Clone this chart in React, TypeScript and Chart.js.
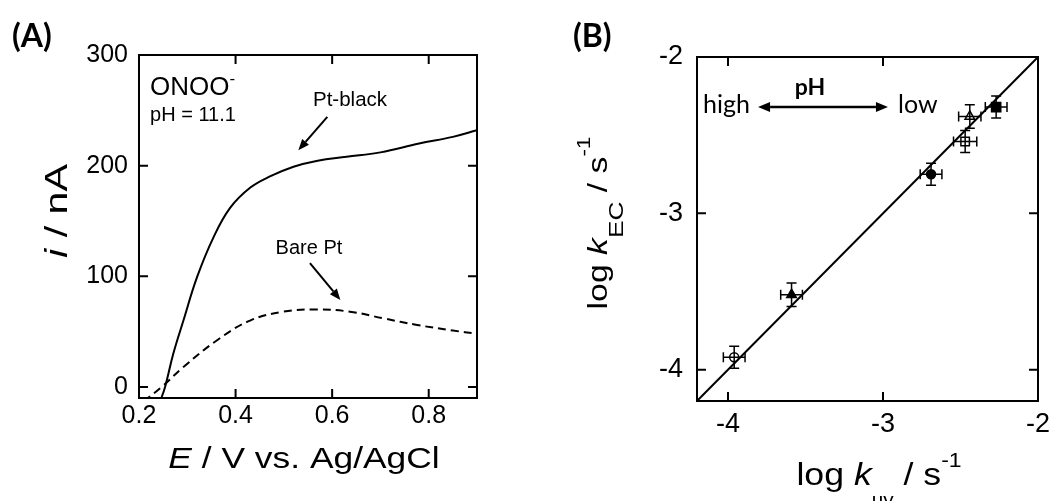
import React, { useEffect, useRef } from "react";
import { Chart, registerables } from "chart.js";
Chart.register(...registerables);

// ---------- Panel A data ----------
const potentialBlack = [0.243, 0.254, 0.271, 0.292, 0.32, 0.354, 0.389, 0.43, 0.47, 0.52, 0.57, 0.63, 0.7, 0.78, 0.85, 0.9];
const currentBlack = [-14, 0, 30, 60, 99, 135, 162, 180, 190, 199, 204.5, 208, 212, 220, 226, 232];
const potentialBare = [0.21, 0.247, 0.292, 0.361, 0.43, 0.499, 0.568, 0.637, 0.706, 0.776, 0.85, 0.9];
const currentBare = [-13, 0, 18, 42, 60, 68, 70, 68, 62, 56, 51, 48];
const xTicksA = [0.2, 0.4, 0.6, 0.8];
const yTicksA = [0, 100, 200, 300];

// ---------- Panel B data ----------
const logKuv = [-2.27, -2.44, -2.47, -2.69, -3.59, -3.96];
const logKec = [-2.32, -2.38, -2.54, -2.75, -3.52, -3.92];
const errUv = [0.07, 0.072, 0.075, 0.07, 0.07, 0.07];
const errEc = [0.07, 0.075, 0.07, 0.07, 0.075, 0.07];
const markerStyle = ["rect", "triangle", "rect", "circle", "triangle", "circle"];
const markerFilled = [true, false, false, true, true, false];
const markerRadius = [6.5, 5.5, 6, 4.5, 5.5, 4.5];
const fitLine = [-4.2, -2];
const ticksB = [-4, -3, -2];

const SANS = "'Liberation Sans', Arial, sans-serif";
const CAL = "Lato, 'Open Sans', sans-serif";

type Run = { t: string; it?: boolean; b?: boolean; size?: number; dy?: number };

function drawRich(
  ctx: CanvasRenderingContext2D,
  runs: Run[],
  x: number,
  y: number,
  size: number,
  family: string,
  align: "left" | "center",
  rot = false,
  sx = 1
) {
  ctx.save();
  ctx.translate(x, y);
  if (rot) ctx.rotate(-Math.PI / 2);
  ctx.scale(sx, 1);
  const parts = runs.map((r) => {
    const s = r.size ?? size;
    const f = `${r.it ? "italic " : ""}${r.b ? "bold " : ""}${s}px ${family}`;
    ctx.font = f;
    return { r, f, w: ctx.measureText(r.t).width };
  });
  const total = parts.reduce((a, p) => a + p.w, 0);
  let cx = align === "center" ? -total / 2 : 0;
  ctx.fillStyle = "#000";
  ctx.textAlign = "left";
  ctx.textBaseline = "alphabetic";
  for (const p of parts) {
    ctx.font = p.f;
    ctx.fillText(p.r.t, cx, (p.r.dy ?? 0) * size);
    cx += p.w;
  }
  ctx.restore();
}

function arrow(ctx: CanvasRenderingContext2D, x1: number, y1: number, x2: number, y2: number, head = 11, half = 4.5, lw = 2) {
  const ang = Math.atan2(y2 - y1, x2 - x1);
  const bx = x2 - head * Math.cos(ang);
  const by = y2 - head * Math.sin(ang);
  ctx.save();
  ctx.strokeStyle = "#000";
  ctx.fillStyle = "#000";
  ctx.lineWidth = lw;
  ctx.beginPath();
  ctx.moveTo(x1, y1);
  ctx.lineTo(bx, by);
  ctx.stroke();
  ctx.beginPath();
  ctx.moveTo(x2, y2);
  ctx.lineTo(bx + half * Math.sin(ang), by - half * Math.cos(ang));
  ctx.lineTo(bx - half * Math.sin(ang), by + half * Math.cos(ang));
  ctx.closePath();
  ctx.fill();
  ctx.restore();
}

function frameTicks(xTicks: number[], yTicks: number[]) {
  return {
    id: "frameTicks",
    afterDatasetsDraw(chart: any) {
      const { ctx, chartArea: a, scales } = chart;
      ctx.save();
      ctx.strokeStyle = "#000";
      ctx.lineWidth = 2;
      ctx.strokeRect(a.left, a.top, a.right - a.left, a.bottom - a.top);
      const L = 9;
      ctx.beginPath();
      for (const v of xTicks) {
        const p = scales.x.getPixelForValue(v);
        ctx.moveTo(p, a.bottom);
        ctx.lineTo(p, a.bottom - L);
        ctx.moveTo(p, a.top);
        ctx.lineTo(p, a.top + L);
      }
      for (const v of yTicks) {
        const p = scales.y.getPixelForValue(v);
        ctx.moveTo(a.left, p);
        ctx.lineTo(a.left + L, p);
        ctx.moveTo(a.right, p);
        ctx.lineTo(a.right - L, p);
      }
      ctx.stroke();
      ctx.restore();
    },
  };
}

function axisCommon(min: number, max: number, ticks: number[], fontSize: number, pad: number, isX: boolean, fmt: (v: number) => string, fitSize: number) {
  return {
    type: "linear" as const,
    min,
    max,
    afterBuildTicks: (s: any) => {
      s.ticks = ticks.map((v) => ({ value: v }));
    },
    afterFit: (s: any) => {
      if (isX) {
        s.height = fitSize;
        s.paddingLeft = 0;
        s.paddingRight = 0;
      } else {
        s.width = fitSize;
        s.paddingTop = 0;
        s.paddingBottom = 0;
      }
    },
    ticks: {
      autoSkip: false,
      maxRotation: 0,
      minRotation: 0,
      padding: pad,
      color: "#000",
      font: { family: SANS, size: fontSize },
      callback: (v: any) => fmt(Number(v)),
    },
    grid: { display: false, drawTicks: false },
    border: { display: false },
  };
}

function PanelA() {
  const ref = useRef<HTMLCanvasElement>(null);
  useEffect(() => {
    const annot = {
      id: "annotA",
      afterDraw(chart: any) {
        const { ctx, scales } = chart;
        const X = (v: number) => scales.x.getPixelForValue(v);
        const Y = (v: number) => scales.y.getPixelForValue(v);
        drawRich(ctx, [{ t: "(A)", b: true }], 12, 47, 32, CAL, "left");
        drawRich(ctx, [{ t: "ONOO" }, { t: "-", size: 17, dy: -0.42 }], X(0.223), Y(264), 26, SANS, "left");
        drawRich(ctx, [{ t: "pH = 11.1" }], X(0.223), Y(240), 20, SANS, "left");
        drawRich(ctx, [{ t: "Pt-black" }], X(0.637), Y(254), 20.5, SANS, "center");
        arrow(ctx, X(0.59), Y(244), X(0.53), Y(214));
        drawRich(ctx, [{ t: "Bare Pt" }], X(0.552), Y(120), 20, SANS, "center");
        arrow(ctx, X(0.554), Y(112), X(0.617), Y(78.6));
        drawRich(ctx, [{ t: "E", it: true }, { t: " / V vs. Ag/AgCl" }], 304, 468, 29, SANS, "center", false, 1.22);
        drawRich(ctx, [{ t: "i", it: true }, { t: " / nA" }], 67, 211, 31, SANS, "center", true, 1.33);
      },
    };
    const chart = new Chart(ref.current!, {
      type: "scatter",
      data: {
        datasets: [
          {
            data: potentialBlack.map((x, i) => ({ x, y: currentBlack[i] })),
            showLine: true,
            borderColor: "#000",
            borderWidth: 2,
            pointRadius: 0,
            tension: 0.4,
            clip: 0,
          } as any,
          {
            data: potentialBare.map((x, i) => ({ x, y: currentBare[i] })),
            showLine: true,
            borderColor: "#000",
            borderWidth: 2,
            borderDash: [8, 5],
            pointRadius: 0,
            tension: 0.4,
            clip: 0,
          } as any,
        ],
      },
      options: {
        responsive: false,
        animation: false,
        devicePixelRatio: 1,
        events: [],
        layout: { padding: { left: 0, right: 53, top: 55, bottom: 63 } },
        plugins: { legend: { display: false }, tooltip: { enabled: false } },
        scales: {
          x: axisCommon(0.2, 0.9, xTicksA, 25, 3, true, (v) => v.toFixed(1), 40),
          y: axisCommon(-10, 300, yTicksA, 25, 11, false, (v) => String(v), 139),
        },
      } as any,
      plugins: [frameTicks(xTicksA, yTicksA), annot],
    });
    return () => chart.destroy();
  }, []);
  return <canvas ref={ref} width={530} height={501} style={{ position: "absolute", left: 0, top: 0, width: 530, height: 501 }} />;
}

function PanelB() {
  const ref = useRef<HTMLCanvasElement>(null);
  useEffect(() => {
    const errorBars = {
      id: "errorBars",
      afterDatasetsDraw(chart: any) {
        const { ctx, scales } = chart;
        const X = (v: number) => scales.x.getPixelForValue(v);
        const Y = (v: number) => scales.y.getPixelForValue(v);
        ctx.save();
        ctx.strokeStyle = "#000";
        ctx.lineWidth = 1.5;
        const cap = 5;
        logKuv.forEach((xv, i) => {
          const yv = logKec[i];
          const x0 = X(xv - errUv[i]);
          const x1 = X(xv + errUv[i]);
          const y0 = Y(yv - errEc[i]);
          const y1 = Y(yv + errEc[i]);
          const px = X(xv);
          const py = Y(yv);
          ctx.beginPath();
          ctx.moveTo(x0, py);
          ctx.lineTo(x1, py);
          ctx.moveTo(x0, py - cap);
          ctx.lineTo(x0, py + cap);
          ctx.moveTo(x1, py - cap);
          ctx.lineTo(x1, py + cap);
          ctx.moveTo(px, y0);
          ctx.lineTo(px, y1);
          ctx.moveTo(px - cap, y0);
          ctx.lineTo(px + cap, y0);
          ctx.moveTo(px - cap, y1);
          ctx.lineTo(px + cap, y1);
          ctx.stroke();
        });
        ctx.restore();
      },
    };
    const annot = {
      id: "annotB",
      afterDraw(chart: any) {
        const { ctx, scales } = chart;
        const X = (v: number) => scales.x.getPixelForValue(v);
        const Y = (v: number) => scales.y.getPixelForValue(v);
        drawRich(ctx, [{ t: "(B)", b: true }], 43, 47, 32, CAL, "left");
        drawRich(ctx, [{ t: "pH", b: true }], X(-3.471), Y(-2.243), 23, CAL, "center");
        drawRich(ctx, [{ t: "high" }], X(-4.161), Y(-2.358), 25, CAL, "left");
        drawRich(ctx, [{ t: "low" }], X(-2.903), Y(-2.358), 25, CAL, "left");
        const ay = Y(-2.32);
        const xa = X(-3.806);
        const xb = X(-2.968);
        const mid = (xa + xb) / 2;
        arrow(ctx, mid, ay, xa, ay, 12, 5, 2.5);
        arrow(ctx, mid, ay, xb, ay, 12, 5, 2.5);
        drawRich(
          ctx,
          [{ t: "log " }, { t: "k", it: true }, { t: "uv", size: 18, dy: 0.68 }, { t: " / s" }, { t: "-1", size: 20, dy: -0.58 }],
          349,
          485,
          31,
          SANS,
          "center",
          false,
          1.15
        );
        drawRich(
          ctx,
          [{ t: "log " }, { t: "k", it: true }, { t: "EC", size: 21, dy: 0.6 }, { t: " / s" }, { t: "-1", size: 18, dy: -0.63 }],
          77,
          223,
          27,
          SANS,
          "center",
          true,
          1.25
        );
      },
    };
    const chart = new Chart(ref.current!, {
      type: "scatter",
      data: {
        datasets: [
          {
            data: fitLine.map((v) => ({ x: v, y: v })),
            showLine: true,
            borderColor: "#000",
            borderWidth: 2,
            pointRadius: 0,
            clip: 0,
          } as any,
          {
            data: logKuv.map((x, i) => ({ x, y: logKec[i] })),
            pointStyle: markerStyle,
            pointRadius: markerRadius,
            pointBackgroundColor: markerFilled.map((f) => (f ? "#000" : "rgba(0,0,0,0)")),
            pointBorderColor: "#000",
            pointBorderWidth: 1.5,
            showLine: false,
          } as any,
        ],
      },
      options: {
        responsive: false,
        animation: false,
        devicePixelRatio: 1,
        events: [],
        layout: { padding: { left: 0, right: 20, top: 57, bottom: 60 } },
        plugins: { legend: { display: false }, tooltip: { enabled: false } },
        scales: {
          x: axisCommon(-4.2, -2, ticksB, 27, 7, true, (v) => String(v), 40),
          y: axisCommon(-4.2, -2, ticksB, 27, 14, false, (v) => String(v), 167),
        },
      } as any,
      plugins: [frameTicks(ticksB, ticksB), errorBars, annot],
    });
    return () => chart.destroy();
  }, []);
  return <canvas ref={ref} width={528} height={501} style={{ position: "absolute", left: 530, top: 0, width: 528, height: 501 }} />;
}

export default function App() {
  return (
    <div style={{ position: "fixed", left: 0, top: 0, width: 1058, height: 501, background: "#fff" }}>
      <PanelA />
      <PanelB />
    </div>
  );
}
